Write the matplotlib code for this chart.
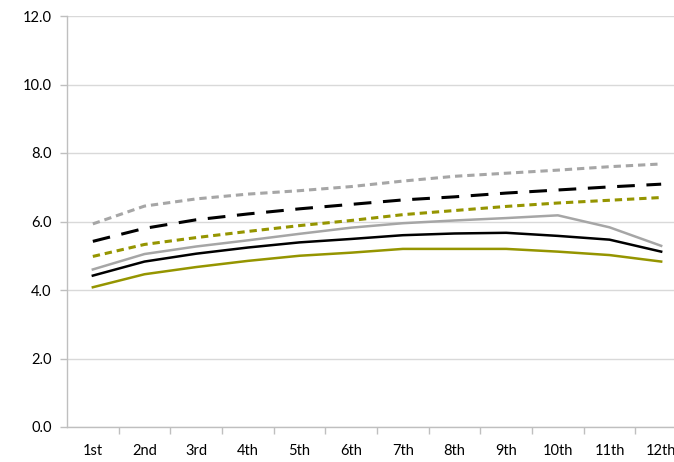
import matplotlib
matplotlib.use("Agg")
import matplotlib.pyplot as plt
import numpy as np

categories = ["1st", "2nd", "3rd", "4th", "5th", "6th", "7th", "8th", "9th", "10th", "11th", "12th"]

gray_dotted   = [5.93, 6.45, 6.66, 6.80, 6.90, 7.02, 7.18, 7.32, 7.41, 7.50, 7.60, 7.68]
black_dashed  = [5.42, 5.80, 6.05, 6.22, 6.37, 6.50, 6.63, 6.72, 6.83, 6.92, 7.01, 7.09]
olive_dotted  = [4.98, 5.33, 5.53, 5.71, 5.88, 6.03, 6.20, 6.32, 6.44, 6.54, 6.62, 6.70]
gray_solid    = [4.60, 5.05, 5.27, 5.45, 5.64, 5.82, 5.95, 6.03, 6.10, 6.18, 5.83, 5.29]
black_solid   = [4.42, 4.83, 5.06, 5.24, 5.39, 5.49, 5.60, 5.65, 5.67, 5.58, 5.47, 5.12]
olive_solid   = [4.08, 4.46, 4.67, 4.85, 5.00, 5.09, 5.20, 5.20, 5.20, 5.12, 5.02, 4.83]

yticks = [0, 2, 4, 6, 8, 10, 12]

GRAY = "#A6A6A6"
OLIVE = "#959500"
BLACK = "#000000"

plt.rcParams['font.family'] = ['Lato', 'DejaVu Sans']

fig = plt.figure(figsize=(6.74, 4.62), dpi=100)
ax = fig.add_axes([67/674, 35/462, 620/674, 411/462])

x = np.arange(len(categories))
ax.plot(x, gray_dotted, color=GRAY, lw=2.2, dashes=(2.4, 1.6), dash_capstyle='butt')
ax.plot(x, black_dashed, color=BLACK, lw=2.2, dashes=(5.8, 3.8), dash_capstyle='butt')
ax.plot(x, olive_dotted, color=OLIVE, lw=2.2, dashes=(2.4, 1.6), dash_capstyle='butt')
ax.plot(x, gray_solid, color=GRAY, lw=1.8)
ax.plot(x, black_solid, color=BLACK, lw=1.8)
ax.plot(x, olive_solid, color=OLIVE, lw=1.8)

ax.set_xlim(-0.5, 11.5)
ax.set_ylim(0, 12)
ax.set_yticks(yticks)
ax.set_yticklabels([f"{v:.1f}" for v in yticks])
ax.set_xticks(x)
ax.set_xticklabels(categories)
ax.set_xticks(np.arange(0.5, 11.5, 1.0), minor=True)

ax.yaxis.grid(True, color="#D9D9D9", lw=1.0)
ax.set_axisbelow(True)
for s in ["top", "right"]:
    ax.spines[s].set_visible(False)
for s in ["left", "bottom"]:
    ax.spines[s].set_color("#BFBFBF")
    ax.spines[s].set_linewidth(1.0)

ax.tick_params(axis='y', length=5, width=1, color="#BFBFBF", pad=6, labelsize=10.5, labelcolor="#000000")
ax.tick_params(axis='x', which='major', length=0, pad=12, labelsize=10.5)
ax.tick_params(axis='x', which='minor', length=5, width=1, color="#BFBFBF")

fig.savefig("out.png", dpi=100)
